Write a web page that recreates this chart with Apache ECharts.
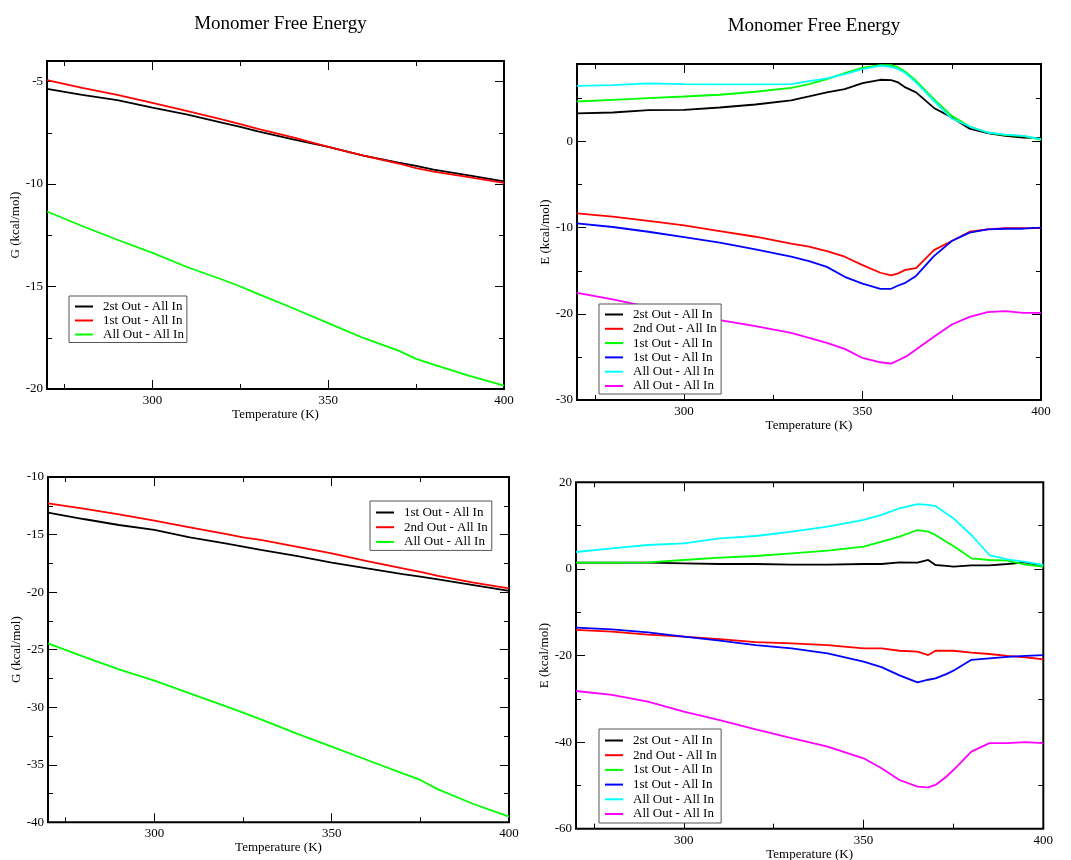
<!DOCTYPE html>
<html>
<head>
<meta charset="utf-8">
<script src="https://cdn.jsdelivr.net/npm/echarts@6/dist/echarts.min.js"></script>
<style>
  html, body { margin: 0; padding: 0; background: #fff; }
  .c { position: absolute; left: 0; top: 0; width: 1071px; height: 860px; }
</style>
</head>
<body>
<div id="c1" class="c"></div>
<div id="c2" class="c"></div>
<div id="c3" class="c"></div>
<div id="c4" class="c"></div>
<script>
// ---------- shared axis data ----------
const tempMin = 270, tempMax = 400;
const xMajorTicks = [300, 350, 400];
const xMinorTicks = [275, 325, 375];

// ---------- Panel 1 (top-left) : G (kcal/mol) ----------
const p1Temp  = [270, 280, 290, 300, 310, 320, 325, 330, 340, 350, 360, 370, 375, 380, 390, 400];
const p1Black = [-5.36, -5.65, -5.91, -6.27, -6.62, -7.02, -7.21, -7.43, -7.82, -8.19, -8.62, -8.96, -9.12, -9.30, -9.58, -9.87];
const p1Red   = [-4.93, -5.31, -5.65, -6.04, -6.45, -6.86, -7.08, -7.31, -7.72, -8.19, -8.62, -9.00, -9.22, -9.40, -9.66, -9.95];
const p1Green = [-11.34, -12.05, -12.72, -13.36, -14.06, -14.67, -15.00, -15.36, -16.06, -16.79, -17.51, -18.13, -18.53, -18.81, -19.35, -19.84];
const p1Names = ['2st Out - All In', '1st Out - All In', 'All Out - All In'];
const p1YMajor = [-20, -15, -10, -5];
const p1YMinor = [-17.5, -12.5, -7.5];

// ---------- Panel 2 (top-right) : E (kcal/mol) ----------
const p2Temp    = [270, 280, 290, 300, 310, 320, 330, 335, 340, 345, 350, 355, 358, 360, 362, 365, 370, 375, 380, 385, 390, 395, 400];
const p2Black   = [3.26, 3.37, 3.64, 3.68, 3.95, 4.30, 4.77, 5.23, 5.70, 6.09, 6.78, 7.17, 7.13, 6.86, 6.28, 5.70, 3.90, 2.80, 1.50, 0.97, 0.66, 0.47, 0.40];
const p2Red     = [-8.33, -8.72, -9.22, -9.73, -10.39, -11.05, -11.86, -12.20, -12.71, -13.37, -14.34, -15.23, -15.54, -15.30, -14.90, -14.70, -12.60, -11.55, -10.47, -10.19, -10.04, -10.04, -10.04];
const p2Green   = [4.65, 4.84, 5.04, 5.23, 5.43, 5.78, 6.24, 6.67, 7.25, 7.95, 8.57, 8.88, 8.88, 8.60, 8.10, 7.05, 4.92, 2.98, 1.74, 1.05, 0.74, 0.66, 0.19];
const p2Blue    = [-9.50, -9.92, -10.47, -11.09, -11.74, -12.52, -13.37, -13.88, -14.55, -15.70, -16.50, -17.09, -17.09, -16.71, -16.40, -15.60, -13.30, -11.55, -10.58, -10.19, -10.12, -10.12, -10.00];
const p2Cyan    = [6.47, 6.55, 6.74, 6.67, 6.63, 6.63, 6.67, 7.00, 7.33, 7.83, 8.41, 8.80, 8.68, 8.41, 7.95, 6.86, 4.73, 2.67, 1.74, 1.05, 0.81, 0.66, 0.27];
const p2Magenta = [-17.56, -18.33, -19.19, -20.08, -20.74, -21.43, -22.21, -22.79, -23.37, -24.07, -25.12, -25.62, -25.78, -25.39, -25.00, -24.15, -22.67, -21.24, -20.35, -19.81, -19.69, -19.88, -19.88];
const p2Names = ['2st Out - All In', '2nd Out - All In', '1st Out - All In', '1st Out - All In ', 'All Out - All In', 'All Out - All In '];
const p2YMajor = [-30, -20, -10, 0];
const p2YMinor = [-25, -15, -5, 5];

// ---------- Panel 3 (bottom-left) : G (kcal/mol) ----------
const p3Temp  = [270, 280, 290, 300, 310, 320, 325, 330, 340, 350, 360, 370, 375, 380, 390, 400];
const p3Black = [-13.10, -13.65, -14.17, -14.60, -15.24, -15.76, -16.05, -16.34, -16.86, -17.44, -17.94, -18.43, -18.66, -18.89, -19.39, -19.90];
const p3Red   = [-12.29, -12.75, -13.24, -13.79, -14.37, -14.95, -15.24, -15.47, -16.05, -16.63, -17.30, -17.94, -18.25, -18.60, -19.18, -19.67];
const p3Green = [-24.45, -25.61, -26.71, -27.69, -28.80, -29.90, -30.47, -31.06, -32.27, -33.43, -34.59, -35.75, -36.32, -37.14, -38.41, -39.51];
const p3Names = ['1st Out - All In', '2nd Out - All In', 'All Out - All In'];
const p3YMajor = [-40, -35, -30, -25, -20, -15, -10];
const p3YMinor = [-37.5, -32.5, -27.5, -22.5, -17.5, -12.5];

// ---------- Panel 4 (bottom-right) : E (kcal/mol) ----------
const p4Temp    = [270, 280, 290, 300, 310, 320, 330, 340, 350, 355, 360, 365, 368, 370, 373, 375, 380, 385, 390, 395, 400];
const p4Black   = [1.44, 1.44, 1.44, 1.29, 1.13, 1.13, 0.98, 0.98, 1.13, 1.13, 1.50, 1.44, 2.06, 0.90, 0.70, 0.52, 0.82, 0.82, 1.13, 1.50, 0.67];
const p4Red     = [-14.10, -14.50, -15.20, -15.65, -16.20, -16.90, -17.20, -17.60, -18.35, -18.35, -18.90, -19.10, -19.90, -18.90, -18.90, -18.90, -19.35, -19.65, -20.10, -20.40, -20.90];
const p4Green   = [1.44, 1.44, 1.50, 2.06, 2.60, 2.98, 3.60, 4.20, 5.13, 6.29, 7.44, 8.98, 8.60, 7.83, 6.29, 5.29, 2.44, 2.06, 1.90, 0.98, 0.52];
const p4Blue    = [-13.57, -13.95, -14.65, -15.65, -16.57, -17.60, -18.35, -19.50, -21.40, -22.70, -24.60, -26.20, -25.60, -25.30, -24.30, -23.50, -21.00, -20.65, -20.30, -20.10, -19.90];
const p4Cyan    = [3.90, 4.75, 5.52, 5.90, 7.06, 7.60, 8.60, 9.75, 11.30, 12.46, 14.00, 14.97, 14.80, 14.50, 12.80, 11.67, 7.83, 3.21, 2.21, 1.60, 0.90];
const p4Magenta = [-28.20, -29.10, -30.65, -32.95, -34.90, -37.05, -39.10, -41.05, -43.75, -46.05, -48.75, -50.30, -50.45, -49.90, -48.00, -46.45, -42.20, -40.25, -40.25, -40.00, -40.25];
const p4Names = ['2st Out - All In', '2nd Out - All In', '1st Out - All In', '1st Out - All In ', 'All Out - All In', 'All Out - All In '];
const p4YMajor = [-60, -40, -20, 0, 20];
const p4YMinor = [-50, -30, -10, 10];

// ---------- styling ----------
const FONT = "'Liberation Serif', 'Times New Roman', serif";
const C = { black: '#000000', red: '#ff0000', green: '#00ff00', blue: '#0000ff', cyan: '#00ffff', magenta: '#ff00ff' };

function axis(kind, gridIndex, position, min, max, ticks, len, labels, name, nameGap) {
  const a = {
    type: 'value', gridIndex, position, min, max, silent: true,
    axisLine: { show: false, onZero: false },
    splitLine: { show: false },
    axisTick: { show: true, inside: true, length: len, customValues: ticks, lineStyle: { color: '#000', width: 1 } },
    axisLabel: { show: labels, customValues: ticks, margin: kind === 'x' ? 5 : 4,
                 fontFamily: FONT, fontSize: 13, color: '#000' }
  };
  if (name) {
    a.name = name; a.nameLocation = 'middle'; a.nameGap = nameGap;
    a.nameTextStyle = { fontFamily: FONT, fontSize: 13, color: '#000' };
  }
  return a;
}

function panelOption(p) {
  const [l, t, w, h] = p.rect;
  const gridBase = { left: l, top: t, width: w, height: h, containLabel: false, outerBoundsMode: 'none' };
  const opt = {
    animation: false,
    backgroundColor: p.bg || 'transparent',
    grid: [
      Object.assign({ show: true, borderColor: '#000', borderWidth: 2, backgroundColor: 'transparent' }, gridBase),
      Object.assign({ show: false }, gridBase)
    ],
    xAxis: [
      axis('x', 0, 'bottom', tempMin, tempMax, xMajorTicks, 9, true, 'Temperature (K)', 18),
      axis('x', 0, 'top', tempMin, tempMax, xMajorTicks, 9, false),
      axis('x', 1, 'bottom', tempMin, tempMax, xMinorTicks, 5, false),
      axis('x', 1, 'top', tempMin, tempMax, xMinorTicks, 5, false)
    ],
    yAxis: [
      axis('y', 0, 'left', p.yMin, p.yMax, p.yMajor, 9, true, p.yName, 24),
      axis('y', 0, 'right', p.yMin, p.yMax, p.yMajor, 9, false),
      axis('y', 1, 'left', p.yMin, p.yMax, p.yMinor, 5, false),
      axis('y', 1, 'right', p.yMin, p.yMax, p.yMinor, 5, false)
    ],
    legend: {
      show: true, orient: 'vertical', left: p.legend.left, top: p.legend.top,
      icon: 'rect', itemWidth: 18, itemHeight: 2, itemGap: p.legend.gap,
      padding: p.legend.padding, borderColor: '#555', borderWidth: 1, borderRadius: 0,
      backgroundColor: '#fff', selectedMode: false,
      data: p.series.map(s => s.name),
      textStyle: { fontFamily: FONT, fontSize: 13, color: '#000', lineHeight: 13, padding: [0, 0, 0, 5] }
    },
    series: p.series.map(s => ({
      type: 'line', name: s.name, xAxisIndex: 0, yAxisIndex: 0,
      data: p.temp.map((tv, i) => [tv, s.values[i]]),
      symbol: 'none', showSymbol: false, clip: true,
      lineStyle: { color: s.color, width: 1.8 }, itemStyle: { color: s.color },
      emphasis: { disabled: true }
    }))
  };
  if (p.title) {
    opt.title = { text: p.title.text, left: p.title.left, top: p.title.top, textAlign: 'center',
                  textStyle: { fontFamily: FONT, fontSize: 19, fontWeight: 'normal', color: '#000' } };
  }
  return opt;
}

const panels = [
  { el: 'c1', bg: '#ffffff', rect: [47, 61, 457, 328], yMin: -20, yMax: -4, yMajor: p1YMajor, yMinor: p1YMinor,
    yName: 'G (kcal/mol)', title: { text: 'Monomer Free Energy', left: 275.5, top: 10 },
    legend: { left: 69, top: 296, gap: 1, padding: [4, 3, 1.5, 6] }, temp: p1Temp,
    series: [
      { name: p1Names[0], color: C.black, values: p1Black },
      { name: p1Names[1], color: C.red, values: p1Red },
      { name: p1Names[2], color: C.green, values: p1Green }
    ] },
  { el: 'c2', rect: [577, 64, 464, 336], yMin: -30, yMax: 9, yMajor: p2YMajor, yMinor: p2YMinor,
    yName: 'E (kcal/mol)', title: { text: 'Monomer Free Energy', left: 809, top: 12 },
    legend: { left: 599, top: 304, gap: 1.3, padding: [4, 4, 1.5, 6] }, temp: p2Temp,
    series: [
      { name: p2Names[0], color: C.black, values: p2Black },
      { name: p2Names[1], color: C.red, values: p2Red },
      { name: p2Names[2], color: C.green, values: p2Green },
      { name: p2Names[3], color: C.blue, values: p2Blue },
      { name: p2Names[4], color: C.cyan, values: p2Cyan },
      { name: p2Names[5], color: C.magenta, values: p2Magenta }
    ] },
  { el: 'c3', rect: [48, 477, 461, 345.3], yMin: -40, yMax: -10, yMajor: p3YMajor, yMinor: p3YMinor,
    yName: 'G (kcal/mol)',
    legend: { left: 370, top: 501, gap: 1.7, padding: [5, 4, 2, 6] }, temp: p3Temp,
    series: [
      { name: p3Names[0], color: C.black, values: p3Black },
      { name: p3Names[1], color: C.red, values: p3Red },
      { name: p3Names[2], color: C.green, values: p3Green }
    ] },
  { el: 'c4', rect: [576, 482.3, 467.3, 346.4], yMin: -60, yMax: 20, yMajor: p4YMajor, yMinor: p4YMinor,
    yName: 'E (kcal/mol)',
    legend: { left: 599, top: 729, gap: 1.7, padding: [5, 4, 2.5, 6] }, temp: p4Temp,
    series: [
      { name: p4Names[0], color: C.black, values: p4Black },
      { name: p4Names[1], color: C.red, values: p4Red },
      { name: p4Names[2], color: C.green, values: p4Green },
      { name: p4Names[3], color: C.blue, values: p4Blue },
      { name: p4Names[4], color: C.cyan, values: p4Cyan },
      { name: p4Names[5], color: C.magenta, values: p4Magenta }
    ] }
];

panels.forEach(p => {
  const chart = echarts.init(document.getElementById(p.el), null, { renderer: 'canvas' });
  chart.setOption(panelOption(p));
});
</script>
</body>
</html>
